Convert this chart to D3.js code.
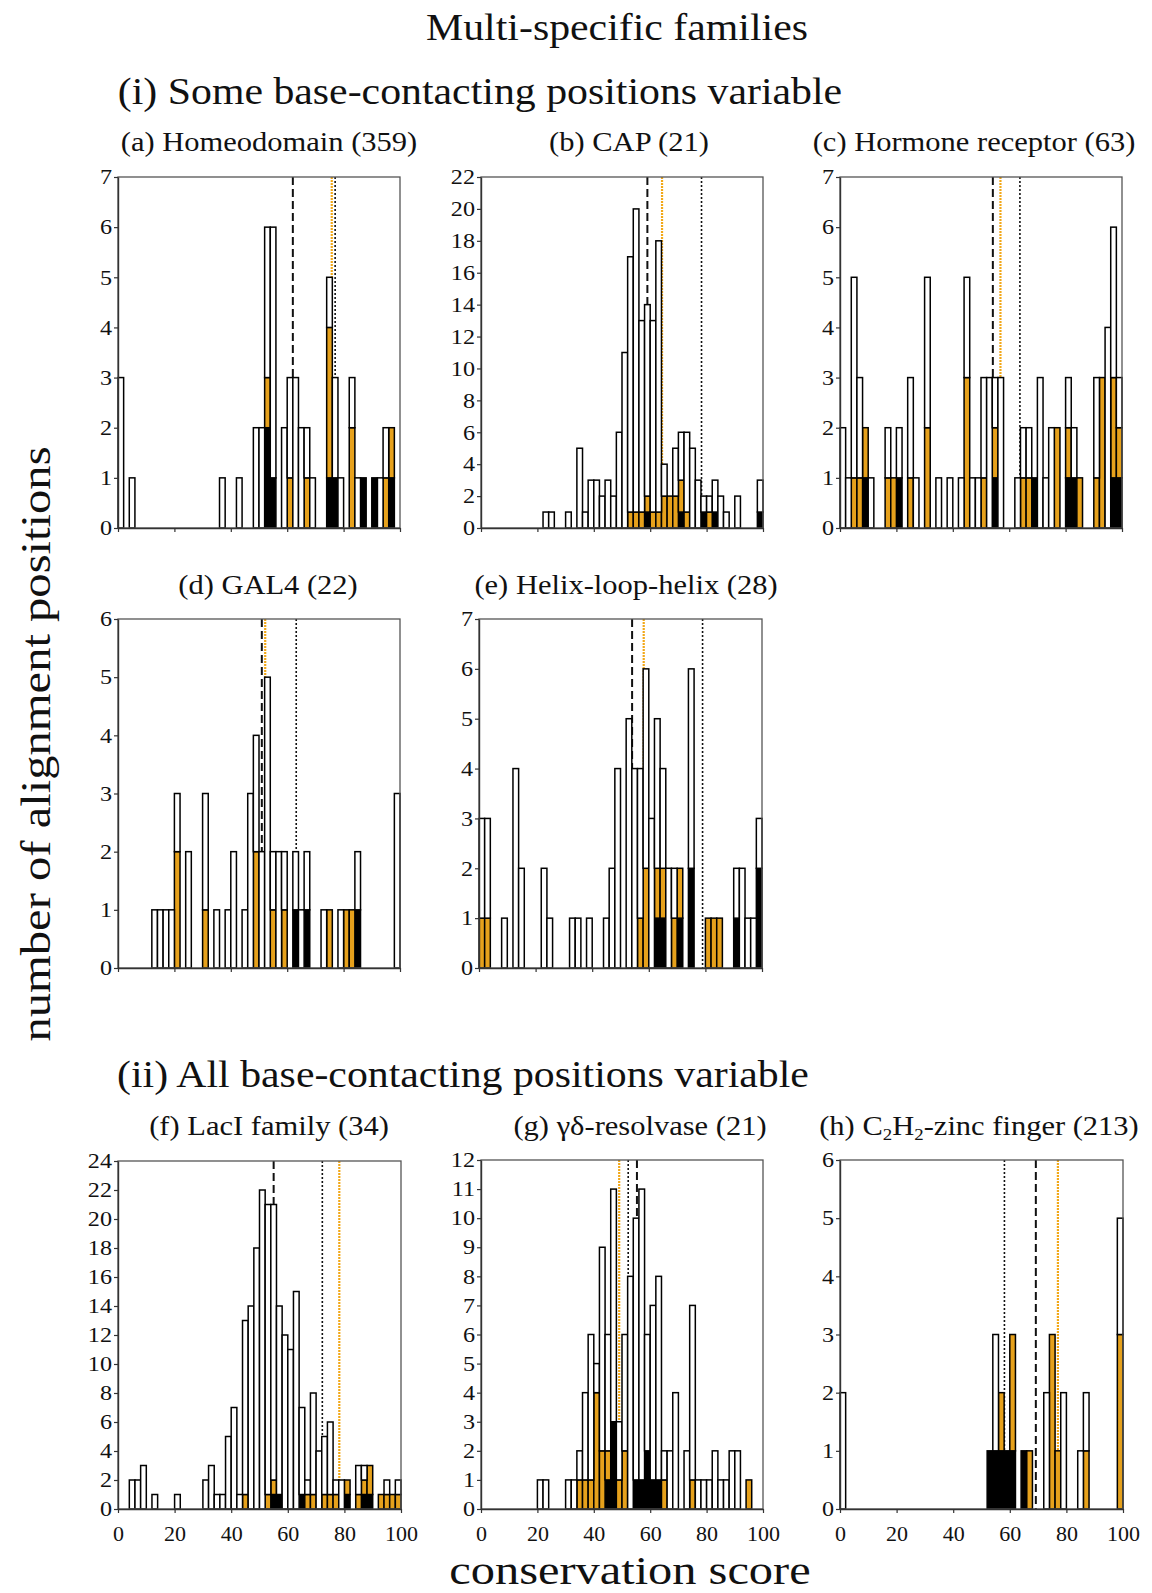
<!DOCTYPE html>
<html>
<head>
<meta charset="utf-8">
<script src="https://cdn.jsdelivr.net/npm/d3@7"></script>
<style>
  body { margin: 0; background: #fff; }
  text { font-family: "Liberation Serif", "Times New Roman", serif; fill: #111; }
</style>
</head>
<body>
<script>
// Each bar is a 2-point bin of conservation score; the score is the bin's left edge.
// Segments stack black (bottom), orange, white (top).

// (a) Homeodomain
const aScore  = [0, 4, 36, 42, 48, 50, 52, 54, 58, 60, 62, 64, 66, 68, 74, 76, 78, 82, 84, 86, 90, 92, 94, 96];
const aBlack  = [0, 0, 0, 0, 0, 0, 2, 1, 0, 0, 0, 0, 0, 0, 1, 1, 0, 0, 0, 1, 1, 0, 0, 1];
const aOrange = [0, 0, 0, 0, 0, 0, 1, 0, 0, 1, 0, 0, 1, 0, 3, 0, 0, 2, 0, 0, 0, 0, 1, 1];
const aWhite  = [3, 1, 1, 1, 2, 2, 3, 5, 2, 2, 3, 2, 1, 1, 1, 2, 1, 1, 1, 0, 0, 1, 1, 0];
const aLines  = [62, 75.8, 77]; // dashed, orange, dotted

// (b) CAP
const bScore  = [22, 24, 30, 34, 36, 38, 40, 42, 44, 46, 48, 50, 52, 54, 56, 58, 60, 62, 64, 66, 68, 70, 72, 74, 76, 78, 80, 82, 84, 86, 90, 98];
const bBlack  = [0, 0, 0, 0, 0, 0, 0, 0, 0, 0, 0, 0, 0, 0, 0, 1, 0, 0, 0, 0, 0, 1, 0, 0, 0, 1, 0, 1, 0, 0, 0, 1];
const bOrange = [0, 0, 0, 0, 0, 0, 0, 0, 0, 0, 0, 0, 1, 1, 1, 1, 1, 1, 2, 2, 2, 2, 1, 0, 0, 0, 1, 0, 0, 0, 0, 0];
const bWhite  = [1, 1, 1, 5, 1, 3, 3, 2, 3, 2, 6, 11, 16, 19, 12, 12, 12, 17, 2, 0, 3, 3, 5, 5, 3, 1, 1, 2, 2, 1, 2, 2];
const bLines  = [59, 64.2, 78.2];

// (c) Hormone receptor
const cScore  = [0, 2, 4, 6, 8, 10, 16, 18, 20, 24, 26, 30, 34, 38, 42, 44, 46, 48, 50, 52, 54, 56, 62, 64, 66, 68, 70, 72, 74, 76, 80, 82, 84, 90, 92, 94, 96, 98];
const cBlack  = [0, 0, 0, 0, 1, 0, 0, 0, 1, 0, 0, 0, 0, 0, 0, 0, 0, 0, 0, 0, 1, 0, 0, 0, 0, 1, 0, 0, 0, 0, 1, 1, 0, 0, 0, 0, 1, 1];
const cOrange = [0, 0, 1, 1, 1, 0, 1, 1, 0, 1, 0, 2, 0, 0, 0, 3, 0, 0, 1, 0, 1, 0, 0, 1, 1, 0, 0, 0, 0, 2, 1, 0, 1, 1, 3, 0, 2, 1];
const cWhite  = [2, 1, 4, 2, 0, 1, 1, 0, 1, 2, 1, 3, 1, 1, 1, 2, 1, 1, 2, 3, 1, 3, 1, 1, 1, 0, 3, 1, 2, 0, 1, 1, 0, 2, 0, 4, 3, 1];
const cLines  = [54.2, 56.9, 63.8];

// (d) GAL4
const dScore  = [12, 14, 16, 18, 20, 24, 30, 34, 38, 40, 44, 46, 48, 50, 52, 54, 56, 58, 62, 64, 66, 72, 74, 78, 80, 82, 84, 98];
const dBlack  = [0, 0, 0, 0, 0, 0, 0, 0, 0, 0, 0, 0, 0, 0, 0, 0, 0, 0, 1, 0, 1, 0, 0, 0, 0, 0, 1, 0];
const dOrange = [0, 0, 0, 0, 2, 0, 1, 0, 0, 0, 0, 0, 2, 0, 0, 1, 0, 1, 0, 0, 0, 0, 1, 0, 1, 1, 0, 0];
const dWhite  = [1, 1, 1, 1, 1, 2, 2, 1, 1, 2, 1, 3, 2, 2, 5, 1, 2, 1, 1, 1, 1, 1, 0, 1, 0, 0, 1, 3];
const dLines  = [51, 52.2, 63.2];

// (e) Helix-loop-helix
const eScore  = [0, 2, 8, 12, 14, 22, 24, 32, 34, 38, 44, 46, 48, 52, 54, 56, 58, 60, 62, 64, 66, 68, 70, 74, 80, 82, 84, 90, 92, 94, 96, 98];
const eBlack  = [0, 0, 0, 0, 0, 0, 0, 0, 0, 0, 0, 0, 0, 0, 0, 0, 0, 0, 1, 1, 0, 0, 1, 2, 0, 0, 0, 1, 0, 0, 0, 2];
const eOrange = [1, 1, 0, 0, 0, 0, 0, 0, 0, 0, 0, 0, 0, 0, 0, 1, 2, 0, 1, 1, 0, 1, 1, 0, 1, 1, 1, 0, 0, 0, 0, 0];
const eWhite  = [2, 2, 1, 4, 2, 2, 1, 1, 1, 1, 1, 2, 4, 5, 4, 3, 4, 3, 3, 2, 2, 1, 0, 4, 0, 0, 0, 1, 2, 1, 1, 1];
const eLines  = [54.1, 58.2, 79];

// (f) LacI family
const fScore  = [4, 6, 8, 12, 20, 30, 32, 34, 36, 38, 40, 42, 44, 46, 48, 50, 52, 54, 56, 58, 60, 62, 64, 66, 68, 70, 72, 74, 76, 78, 80, 84, 86, 88, 92, 94, 96, 98];
const fBlack  = [0, 0, 0, 0, 0, 0, 0, 0, 0, 0, 0, 0, 0, 0, 0, 0, 0, 1, 1, 0, 0, 0, 1, 0, 0, 0, 0, 0, 0, 0, 1, 0, 1, 1, 0, 0, 0, 0];
const fOrange = [0, 0, 0, 0, 0, 0, 0, 0, 0, 0, 0, 0, 1, 0, 0, 0, 1, 1, 0, 0, 0, 0, 0, 1, 1, 0, 1, 1, 1, 0, 1, 1, 1, 2, 1, 1, 1, 1];
const fWhite  = [2, 2, 3, 1, 1, 2, 3, 1, 1, 5, 7, 1, 12, 14, 18, 22, 20, 19, 13, 12, 11, 15, 6, 1, 7, 4, 4, 5, 1, 2, 0, 2, 1, 0, 0, 1, 0, 1];
const fLines  = [55, 78.2, 72.2];

// (g) gamma-delta resolvase
const gScore  = [20, 22, 30, 32, 34, 36, 38, 40, 42, 44, 46, 48, 50, 52, 54, 56, 58, 60, 62, 64, 66, 68, 72, 74, 76, 78, 80, 82, 84, 86, 88, 90, 94];
const gBlack  = [0, 0, 0, 0, 0, 0, 0, 0, 0, 1, 3, 0, 0, 0, 1, 1, 2, 1, 1, 0, 0, 0, 0, 0, 0, 0, 0, 0, 0, 0, 0, 0, 0];
const gOrange = [0, 0, 0, 0, 1, 1, 1, 4, 2, 1, 0, 1, 2, 0, 0, 0, 0, 0, 0, 1, 0, 0, 0, 1, 0, 0, 0, 0, 0, 0, 0, 0, 1];
const gWhite  = [1, 1, 1, 1, 1, 3, 5, 1, 7, 4, 8, 2, 4, 8, 9, 10, 4, 6, 7, 1, 2, 4, 2, 6, 1, 1, 1, 2, 1, 1, 2, 2, 0];
const gLines  = [55.3, 49, 52.2];

// (h) C2H2-zinc finger
const hScore  = [0, 52, 54, 56, 58, 60, 64, 66, 72, 74, 76, 78, 84, 86, 98];
const hBlack  = [0, 1, 1, 1, 1, 1, 1, 0, 0, 0, 0, 0, 0, 0, 0];
const hOrange = [0, 0, 0, 1, 0, 2, 0, 1, 0, 3, 1, 0, 0, 1, 3];
const hWhite  = [2, 0, 2, 0, 0, 0, 0, 0, 2, 0, 0, 2, 1, 1, 2];
const hLines  = [69.2, 77, 58.1];

const titles = ["(a) Homeodomain (359)", "(b) CAP (21)", "(c) Hormone receptor (63)",
  "(d) GAL4 (22)", "(e) Helix-loop-helix (28)", "(f) LacI family (34)",
  "(g) γδ-resolvase (21)", "(h) C2H2-zinc finger (213)"];
const yMaxes = [7, 22, 7, 6, 7, 24, 12, 6];
const yStep = [1, 2, 1, 1, 1, 2, 1, 1];
const xTicks = [0, 20, 40, 60, 80, 100];

const W = 1152, H = 1593;
const ORANGE = "#e6a11c";
const SERIF = '"Liberation Serif","Times New Roman",serif';
const STRETCH = 1.13; // the original lettering is a bit wider than Times

const svg = d3.select("body").append("svg")
  .attr("width", W).attr("height", H)
  .attr("viewBox", `0 0 ${W} ${H}`);
svg.append("rect").attr("width", W).attr("height", H).attr("fill", "#fff");

function label(str, cx, y, size, rotate, stretch) {
  const t = svg.append("text")
    .attr("transform", `translate(${cx},${y}) rotate(${rotate || 0}) scale(${stretch || STRETCH},1)`)
    .attr("text-anchor", "middle")
    .style("font-size", size + "px");
  // digits written after a capital letter in "C2H2" become subscripts
  const parts = str.split(/(?<=[A-Z])(2)/);
  parts.forEach((s, i) => {
    if (i % 2 === 1) {
      t.append("tspan").attr("font-size", size * 0.62 + "px").attr("dy", size * 0.2).text(s);
    } else {
      const sp = t.append("tspan").text(s);
      if (i > 0) sp.attr("dy", -size * 0.2);
    }
  });
  return t;
}

label("Multi-specific families", 617, 40, 37);
label("(i) Some base-contacting positions variable", 480, 104, 37);
label("(ii) All base-contacting positions variable", 463, 1087, 37);
label("number of alignment positions", 50, 744, 43, -90);
label("conservation score", 630, 1584, 41, 0, 1.18);

// panel frames: left, top, bottom, width, title anchor
const layout = [
  { x0: 118, y0: 177, y1: 528, w: 282, tx: 269, ty: 151 },
  { x0: 481, y0: 177, y1: 528, w: 282, tx: 629, ty: 151 },
  { x0: 840, y0: 177, y1: 528, w: 282, tx: 974, ty: 151 },
  { x0: 118, y0: 619, y1: 968, w: 282, tx: 268, ty: 594 },
  { x0: 479, y0: 619, y1: 968, w: 283, tx: 626, ty: 594 },
  { x0: 118, y0: 1161, y1: 1509, w: 283, tx: 269, ty: 1135 },
  { x0: 481, y0: 1160, y1: 1509, w: 282, tx: 640, ty: 1135 },
  { x0: 840, y0: 1160, y1: 1509, w: 283, tx: 979, ty: 1135 }
];

const panelData = [
  [aScore, aBlack, aOrange, aWhite, aLines],
  [bScore, bBlack, bOrange, bWhite, bLines],
  [cScore, cBlack, cOrange, cWhite, cLines],
  [dScore, dBlack, dOrange, dWhite, dLines],
  [eScore, eBlack, eOrange, eWhite, eLines],
  [fScore, fBlack, fOrange, fWhite, fLines],
  [gScore, gBlack, gOrange, gWhite, gLines],
  [hScore, hBlack, hOrange, hWhite, hLines]
];

const lineStyles = [
  { stroke: "#111", width: 2, dash: "8,4" },
  { stroke: "#f2a818", width: 2.2, dash: "2,1" },
  { stroke: "#111", width: 1.6, dash: "2,2" }
];
const fills = { black: "#000", orange: ORANGE, white: "#fff" };
const TICK_STRETCH = 1.15;

panelData.forEach((pd, i) => {
  const L = layout[i];
  const [score, black, orange, white, lines] = pd;
  const yMax = yMaxes[i];
  const x = d3.scaleLinear().domain([0, 100]).range([L.x0, L.x0 + L.w]);
  const y = d3.scaleLinear().domain([0, yMax]).range([L.y1, L.y0]);
  const g = svg.append("g");

  label(titles[i], L.tx, L.ty, 27);

  // reference lines sit behind the bars
  lines.forEach((v, k) => {
    g.append("line")
      .attr("x1", x(v)).attr("x2", x(v))
      .attr("y1", y(yMax)).attr("y2", y(0))
      .attr("stroke", lineStyles[k].stroke)
      .attr("stroke-width", lineStyles[k].width)
      .attr("stroke-dasharray", lineStyles[k].dash);
  });

  const rows = score.map((s, k) => ({ score: s, black: black[k], orange: orange[k], white: white[k] }));
  const series = d3.stack().keys(["black", "orange", "white"])(rows);

  g.selectAll("g.seg")
    .data(series)
    .join("g")
    .attr("class", "seg")
    .attr("fill", (d) => fills[d.key])
    .selectAll("rect")
    .data((d) => d.filter((e) => e[1] > e[0]))
    .join("rect")
    .attr("x", (d) => x(d.data.score))
    .attr("width", (d) => x(d.data.score + 2) - x(d.data.score))
    .attr("y", (d) => y(d[1]))
    .attr("height", (d) => y(d[0]) - y(d[1]))
    .attr("stroke", "#000")
    .attr("stroke-width", 1.5);

  // box
  g.append("rect")
    .attr("x", L.x0).attr("y", L.y0)
    .attr("width", L.w).attr("height", L.y1 - L.y0)
    .attr("fill", "none").attr("stroke", "#555").attr("stroke-width", 1.3);

  const bottomRow = i >= 5;
  const xAxis = g.append("g")
    .attr("transform", `translate(0,${L.y1})`)
    .call(d3.axisBottom(x).tickValues(xTicks).tickSize(4).tickSizeOuter(0).tickPadding(12)
      .tickFormat(bottomRow ? d3.format("d") : () => ""));
  const yAxis = g.append("g")
    .attr("transform", `translate(${L.x0},0)`)
    .call(d3.axisLeft(y).tickValues(d3.range(0, yMax + 1, yStep[i])).tickSize(4).tickSizeOuter(0)
      .tickFormat(d3.format("d")));

  [xAxis, yAxis].forEach((ax) => {
    ax.attr("font-family", SERIF).attr("font-size", 21);
    ax.select(".domain").attr("stroke", "#333").attr("stroke-width", 1.4);
    ax.selectAll(".tick line").attr("stroke", "#333").attr("stroke-width", 1.2);
    ax.selectAll(".tick text").attr("fill", "#111");
  });
  xAxis.attr("font-size", 22);
  // widen the y digits like the original lettering
  yAxis.selectAll(".tick text").attr("x", 0)
    .attr("transform", `translate(-6,0) scale(${TICK_STRETCH},1)`);
});
</script>
</body>
</html>
